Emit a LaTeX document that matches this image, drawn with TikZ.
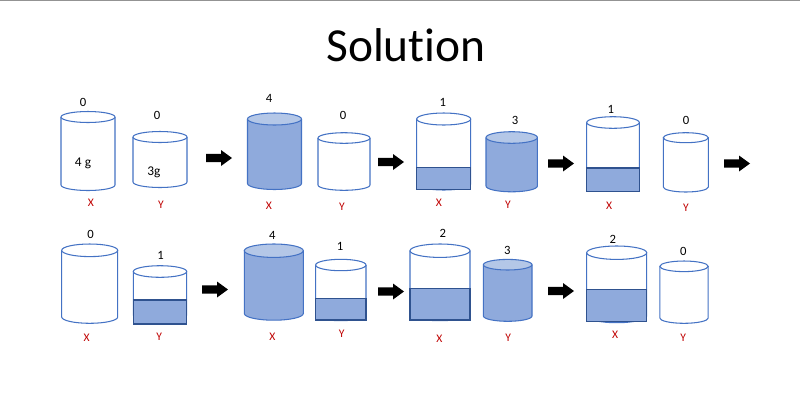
\documentclass[tikz,border=0pt]{standalone}
\usepackage{fontspec}
\setmainfont{Carlito}[Ligatures=NoCommon]
\definecolor{cylline}{HTML}{4472C4}
\definecolor{rectline}{HTML}{2F528F}
\definecolor{cylfill}{HTML}{8FAADC}
\definecolor{cyltop}{HTML}{B4C7E7}
\definecolor{lblred}{HTML}{C00000}
\tikzset{
  cyl/.style={draw=cylline, line width=0.6pt},
  lvl/.style={draw=rectline, line width=0.6pt, fill=cylfill},
  num/.style={font=\fontsize{7.2}{8}\selectfont, inner sep=0pt},
  inner/.style={font=\fontsize{7.6}{8}\selectfont, inner sep=0pt},
  xy/.style={font=\fontsize{6.6}{7}\selectfont, text=lblred, inner sep=0pt},
  arr/.style={fill=black},
}
% #1 cx, #2 top y, #3 bottom y, #4 a, #5 b, #6 body fill, #7 top fill
\newcommand\cylbase[7]{%
  \fill[#6] ({#1-#4},{-#2}) -- ({#1-#4},{-#3}) arc[start angle=180,end angle=360,x radius=#4,y radius=#5] -- ({#1+#4},{-#2}) -- cycle;
  \draw[cyl] ({#1-#4},{-#2}) -- ({#1-#4},{-#3}) arc[start angle=180,end angle=360,x radius=#4,y radius=#5] -- ({#1+#4},{-#2});
  \filldraw[cyl,fill=#7] (#1,{-#2}) ellipse [x radius=#4, y radius=#5];
}
\newcommand\emptycyl[5]{\cylbase{#1}{#2}{#3}{#4}{#5}{white}{white}}
\newcommand\fullcyl[5]{\cylbase{#1}{#2}{#3}{#4}{#5}{cylfill}{cyltop}}
% #6 level y, #7 rect bottom y
\newcommand\levelcyl[7]{%
  \cylbase{#1}{#2}{#3}{#4}{#5}{white}{white}
  \filldraw[lvl] ({#1-#4},{-#6}) rectangle ({#1+#4},{-#7});
}
% #1 left x, #2 centre y
\newcommand\blockarr[2]{%
  \fill[arr] (#1,{-#2+4.2}) -- ({#1+15},{-#2+4.2}) -- ({#1+15},{-#2+8}) -- ({#1+26},{-#2})
    -- ({#1+15},{-#2-8}) -- ({#1+15},{-#2-4.2}) -- (#1,{-#2-4.2}) -- cycle;
}
\begin{document}
\begin{tikzpicture}[x=0.02cm,y=0.02cm]
\useasboundingbox (0,0) rectangle (800,-400);
\fill[white] (0,0) rectangle (800,-400);
\draw[gray!85, line width=0.9pt] (0,-0.6) -- (800,-0.6);

\node[font=\fontsize{27}{30}\selectfont, inner sep=0pt] (title) at (406,-45) {Solution};

% ---- row 1 ----
\emptycyl{88}{117}{185}{27}{5.5}
\node[num] (n1) at (83,-102) {0};
\node[inner] (g1) at (83,-163) {4 g};
\node[xy] (l1) at (91,-203) {X};

\emptycyl{160}{137}{182}{27}{5.5}
\node[num] (n2) at (157,-115) {0};
\node[inner] (g2) at (154,-172) {3g};
\node[xy] (l2) at (161,-205) {Y};

\blockarr{206}{158}

\fullcyl{274.5}{119}{183.5}{27}{6}
\node[num] (n3) at (269,-98) {4};
\node[xy] (l3) at (269,-206) {X};

\emptycyl{344}{138}{185}{26}{5.3}
\node[num] (n4) at (343,-115) {0};
\node[xy] (l4) at (342,-207) {Y};

\blockarr{378}{162}

\levelcyl{443.7}{119}{184}{27}{6}{167.3}{189.3}
\node[num] (n5) at (442.7,-102.7) {1};
\node[xy] (l5) at (439,-203) {X};

\fullcyl{511.7}{137.5}{186}{25.7}{5.8}
\node[num] (n6) at (515,-120) {3};
\node[xy] (l6) at (508,-205) {Y};

\blockarr{548}{163.5}

\levelcyl{613}{122.5}{184}{26.3}{5.8}{168}{191.7}
\node[num] (n7) at (610.7,-109) {1};
\node[xy] (l7) at (609,-206) {X};

\emptycyl{685.8}{137.7}{187}{22.5}{5}
\node[num] (n8) at (686,-120) {0};
\node[xy] (l8) at (686,-208) {Y};

\blockarr{724}{163.5}

% ---- row 2 ----
\emptycyl{89.7}{250.3}{317}{28}{6.3}
\node[num] (n9) at (90.7,-234) {0};
\node[xy] (l9) at (86.7,-338) {X};

\levelcyl{160}{271.5}{315}{26.7}{5.8}{300}{324}
\node[num] (n10) at (160.7,-255) {1};
\node[xy] (l10) at (159.3,-337) {Y};

\blockarr{202}{289.5}

\fullcyl{273.8}{250.7}{313.5}{29.5}{6.7}
\node[num] (n11) at (272.3,-235) {4};
\node[xy] (l11) at (272.3,-337) {X};

\levelcyl{340.8}{265}{315}{25.2}{5.7}{298.3}{320}
\node[num] (n12) at (340,-246.7) {1};
\node[xy] (l12) at (341.7,-334) {Y};

\blockarr{378}{291.5}

\levelcyl{440}{250.7}{314}{30}{6.7}{288.3}{320}
\node[num] (n13) at (442.7,-233.3) {2};
\node[xy] (l13) at (439.3,-338.3) {X};

\fullcyl{507.7}{264.7}{316}{24.3}{5.3}
\node[num] (n14) at (507.3,-250) {3};
\node[xy] (l14) at (508.3,-337.3) {Y};

\blockarr{548}{291}

\levelcyl{616.7}{252.7}{316}{30}{6.7}{289.3}{321.7}
\node[num] (n15) at (612.7,-239.3) {2};
\node[xy] (l15) at (615,-335) {X};

\emptycyl{684}{266.3}{318}{24.2}{5.3}
\node[num] (n16) at (683.3,-251.7) {0};
\node[xy] (l16) at (683.3,-337.3) {Y};
\end{tikzpicture}
\end{document}
